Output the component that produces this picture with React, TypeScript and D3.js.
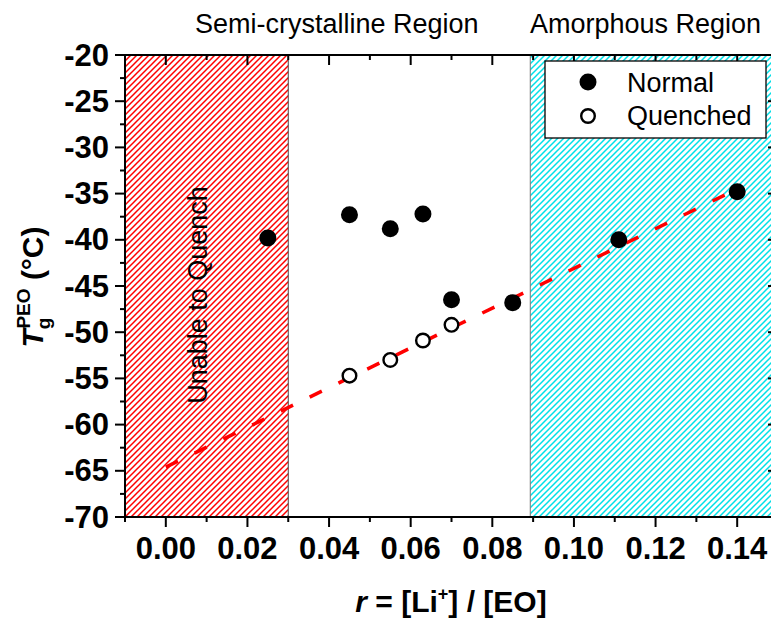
import React from "react";
import * as d3 from "d3";

const normalR = [0.025, 0.045, 0.055, 0.063, 0.07, 0.085, 0.111, 0.14];
const normalTg = [-39.8, -37.3, -38.8, -37.2, -46.5, -46.8, -40.0, -34.8];
const quenchedR = [0.045, 0.055, 0.063, 0.07];
const quenchedTg = [-54.7, -53.0, -50.9, -49.2];
const fitR = [0.0, 0.14];
const fitTg = [-64.6, -34.5];
const xTicks = [0.0, 0.02, 0.04, 0.06, 0.08, 0.1, 0.12, 0.14];
const xMinor = [-0.01, 0.01, 0.03, 0.05, 0.07, 0.09, 0.11, 0.13, 0.15];
const yTicks = [-70, -65, -60, -55, -50, -45, -40, -35, -30, -25, -20];
const yMinor = [-67.5, -62.5, -57.5, -52.5, -47.5, -42.5, -37.5, -32.5, -27.5, -22.5];
const semiRegion = [-0.01, 0.03];
const amorphRegion = [0.0893, 0.15];

const W = 771;
const H = 619;
const FONT = "Arial, 'Liberation Sans', Helvetica, sans-serif";

export default function App() {
  const x = d3.scaleLinear().domain([-0.01, 0.15]).range([125, 778]);
  const y = d3.scaleLinear().domain([-70, -20]).range([517, 55]);
  const [x0, x1] = x.range();
  const [yb, yt] = y.range();
  const line = d3
    .line<number>()
    .x((d, i) => x(fitR[i]))
    .y((d) => y(d));

  return (
    <svg
      width={W}
      height={H}
      style={{ position: "absolute", left: 0, top: 0, background: "#fff" }}
      fontFamily={FONT}
    >
      <defs>
        <clipPath id="plot">
          <rect x={x0} y={yt} width={x1 - x0} height={yb - yt} />
        </clipPath>
        <pattern id="hatchRed" patternUnits="userSpaceOnUse" width={6} height={6}>
          <path d="M-1,1 L1,-1 M0,6 L6,0 M5,7 L7,5" stroke="#ff0000" strokeWidth={1.5} />
        </pattern>
        <pattern id="hatchCyan" patternUnits="userSpaceOnUse" width={6} height={6}>
          <path d="M-1,1 L1,-1 M0,6 L6,0 M5,7 L7,5" stroke="#00e0e8" strokeWidth={1.5} />
        </pattern>
      </defs>

      <g clipPath="url(#plot)">
        <rect
          x={x(semiRegion[0])}
          y={yt}
          width={x(semiRegion[1]) - x(semiRegion[0])}
          height={yb - yt}
          fill="url(#hatchRed)"
          stroke="#444"
          strokeWidth={1}
        />
        <rect
          x={x(amorphRegion[0])}
          y={yt}
          width={x(amorphRegion[1]) - x(amorphRegion[0])}
          height={yb - yt}
          fill="url(#hatchCyan)"
          stroke="#777"
          strokeWidth={1}
        />
        <path
          d={line(fitTg) || ""}
          fill="none"
          stroke="#ff0000"
          strokeWidth={3.5}
          strokeDasharray="13.5 18.5"
        />
        {normalR.map((r, i) => (
          <circle key={"n" + i} cx={x(r)} cy={y(normalTg[i])} r={8.5} fill="#000" />
        ))}
        {quenchedR.map((r, i) => (
          <circle
            key={"q" + i}
            cx={x(r)}
            cy={y(quenchedTg[i])}
            r={6.8}
            fill="#fff"
            stroke="#000"
            strokeWidth={2.4}
          />
        ))}
      </g>

      <text
        transform={`translate(207,295) rotate(-90)`}
        textAnchor="middle"
        fontSize={27}
        fill="#000"
      >
        Unable to Quench
      </text>

      {/* axes frame */}
      <rect x={x0} y={yt} width={x1 - x0} height={yb - yt} fill="none" stroke="#000" strokeWidth={2} />

      {/* bottom ticks (outward) */}
      {xTicks.map((t) => (
        <line key={"bx" + t} x1={x(t)} x2={x(t)} y1={yb} y2={yb + 10} stroke="#000" strokeWidth={2} />
      ))}
      {xMinor.map((t) => (
        <line key={"bm" + t} x1={x(t)} x2={x(t)} y1={yb} y2={yb + 5} stroke="#000" strokeWidth={2} />
      ))}
      {/* top ticks (inward) */}
      {xTicks.map((t) => (
        <line key={"tx" + t} x1={x(t)} x2={x(t)} y1={yt} y2={yt + 10} stroke="#000" strokeWidth={2} />
      ))}
      {xMinor.map((t) => (
        <line key={"tm" + t} x1={x(t)} x2={x(t)} y1={yt} y2={yt + 5} stroke="#000" strokeWidth={2} />
      ))}
      {/* left ticks (outward) */}
      {yTicks.map((t) => (
        <line key={"ly" + t} x1={x0 - 10} x2={x0} y1={y(t)} y2={y(t)} stroke="#000" strokeWidth={2} />
      ))}
      {yMinor.map((t) => (
        <line key={"lm" + t} x1={x0 - 5} x2={x0} y1={y(t)} y2={y(t)} stroke="#000" strokeWidth={2} />
      ))}
      {/* right ticks (inward) */}
      {yTicks.map((t) => (
        <line key={"ry" + t} x1={x1 - 10} x2={x1} y1={y(t)} y2={y(t)} stroke="#000" strokeWidth={2} />
      ))}
      {yMinor.map((t) => (
        <line key={"rm" + t} x1={x1 - 5} x2={x1} y1={y(t)} y2={y(t)} stroke="#000" strokeWidth={2} />
      ))}

      {/* tick labels */}
      {xTicks.map((t) => (
        <text
          key={"xl" + t}
          x={x(t)}
          y={559}
          textAnchor="middle"
          fontSize={31}
          fontWeight="bold"
          fill="#000"
        >
          {d3.format(".2f")(t)}
        </text>
      ))}
      {yTicks.map((t) => (
        <text
          key={"yl" + t}
          x={109}
          y={y(t) + 10.5}
          textAnchor="end"
          fontSize={31}
          fontWeight="bold"
          fill="#000"
        >
          {t}
        </text>
      ))}

      {/* axis titles */}
      <text x={451} y={612} textAnchor="middle" fontSize={30} fontWeight="bold" fill="#000">
        <tspan fontStyle="italic">r</tspan>
        <tspan> = [Li</tspan>
        <tspan fontSize={18} dy={-12}>+</tspan>
        <tspan dy={12}>] / [EO]</tspan>
      </text>
      <text
        transform={`translate(43,287) rotate(-90)`}
        textAnchor="middle"
        fontSize={30}
        fontWeight="bold"
        fill="#000"
      >
        <tspan fontStyle="italic">T</tspan>
        <tspan fontSize={19} dy={7}>g</tspan>
        <tspan fontSize={19} dx={-11} dy={-20}>PEO</tspan>
        <tspan dy={13}> (°C)</tspan>
      </text>

      {/* region labels */}
      <text x={195} y={33} fontSize={27} fill="#000">
        Semi-crystalline Region
      </text>
      <text x={530} y={33} fontSize={27} fill="#000">
        Amorphous Region
      </text>

      {/* legend */}
      <rect x={545} y={61} width={221} height={77} fill="#fff" stroke="#000" strokeWidth={1.3} />
      <circle cx={588} cy={82} r={8.5} fill="#000" />
      <text x={627} y={92} fontSize={27} fill="#000">
        Normal
      </text>
      <circle cx={588} cy={116} r={6.8} fill="#fff" stroke="#000" strokeWidth={2.4} />
      <text x={627} y={125} fontSize={27} fill="#000">
        Quenched
      </text>
    </svg>
  );
}
